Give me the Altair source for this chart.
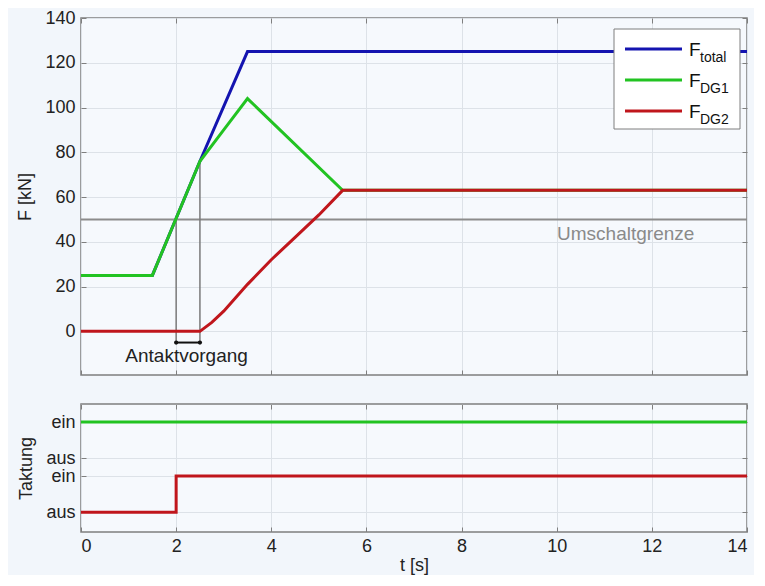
import altair as alt
import pandas as pd

# ---------------- data ----------------
t_total = [0, 1.5, 2.5, 3.5, 14]
f_total = [25, 25, 76, 125, 125]
t_dg1 = [0, 1.5, 2.5, 3.0, 3.5, 5.5, 14]
f_dg1 = [25, 25, 76, 90, 104, 63, 63]
t_dg2 = [0, 2.5, 2.75, 3.0, 3.25, 3.5, 4.0, 4.5, 5.0, 5.5, 14]
f_dg2 = [0, 0, 4, 9, 15, 21, 32, 42, 52, 63, 63]

threshold = 50
threshold_label = "Umschaltgrenze"
threshold_label_pos = [11.45, 43.5]
marker_t = [2.0, 2.5]
marker_top = [50, 76]
marker_bottom = -5
marker_label = "Antaktvorgang"
marker_label_pos = [2.22, -10.8]

tak_t_dg1 = [0, 14]
tak_dg1 = [2.5, 2.5]
tak_t_dg2 = [0, 2, 2, 14]
tak_dg2 = [0, 0, 1, 1]
tak_ticks = [0, 1, 1.5, 2.5]
tak_labels = ["aus", "ein", "aus", "ein"]

x_ticks = [0, 2, 4, 6, 8, 10, 12, 14]
y_ticks = [0, 20, 40, 60, 80, 100, 120, 140]

legend_names = ["total", "DG1", "DG2"]

# ---------------- style ----------------
C_TOTAL = "#1414b0"
C_DG1 = "#22c322"
C_DG2 = "#c0161c"
FRAME = "#7f7f7f"
GRID = "#dde2e8"
BG = "#f2f6fb"
FONT = "Liberation Sans"
FS = 18
FS_ANN = 19
W = 666
H_TOP = 357
H_BOT = 128
LW = 3

xscale = alt.Scale(domain=[0, 14], nice=False, zero=False)
yscale_top = alt.Scale(domain=[-19.5, 140], nice=False, zero=False)
yscale_bot = alt.Scale(domain=[-0.55, 3.0], nice=False, zero=False)


def ax_in(values, orient, grid=True, labels=True, title=None, **kw):
    d = dict(values=values, orient=orient, tickSize=5, offset=-5, domain=False, grid=grid,
             gridColor=GRID, gridWidth=1, tickColor=FRAME, tickWidth=1,
             labels=labels, labelPadding=6, labelFontSize=FS, labelColor="#222",
             labelFont=FONT, labelOverlap=False, titleFont=FONT, titleFontSize=FS,
             titleFontWeight="normal", titleColor="#222")
    d["title"] = title if title is not None else None
    d.update(kw)
    return alt.Axis(**d)


def line_df(t, v):
    return pd.DataFrame({"t": t, "v": v})


def X(scale=xscale, axis=None, field="t:Q"):
    return alt.X(field, scale=scale, axis=axis)


def Y(scale, axis=None, field="v:Q"):
    return alt.Y(field, scale=scale, axis=axis)


# ---------------- top panel ----------------
def top_line(t, v, color, axes=False):
    xa = ax_in(x_ticks, "bottom", labels=False) if axes else None
    ya = ax_in(y_ticks, "left", title="F [kN]", titlePadding=10) if axes else None
    return alt.Chart(line_df(t, v)).mark_line(color=color, strokeWidth=LW).encode(
        x=X(axis=xa), y=Y(yscale_top, ya)
    )


thr_df = pd.DataFrame({"t": [0, 14], "v": [threshold, threshold]})
thr_line = alt.Chart(thr_df).mark_line(color="#8c8c8c", strokeWidth=2).encode(
    x=X(axis=ax_in(x_ticks, "top", grid=False, labels=False)),
    y=Y(yscale_top, ax_in(y_ticks, "right", grid=False, labels=False)),
)

thr_text = alt.Chart(pd.DataFrame({"t": [threshold_label_pos[0]], "v": [threshold_label_pos[1]],
                                   "s": [threshold_label]})).mark_text(
    font=FONT, fontSize=FS_ANN, color="#8a8a8a", align="center", baseline="middle"
).encode(x=X(), y=Y(yscale_top), text="s:N")

vl_df = pd.DataFrame({"t": marker_t, "v0": [marker_bottom, marker_bottom], "v1": marker_top})
vlines = alt.Chart(vl_df).mark_rule(color="#7a7a7a", strokeWidth=1.5).encode(
    x=X(), y=Y(yscale_top, field="v0:Q"), y2="v1:Q"
)

bar_df = pd.DataFrame({"t": [marker_t[0]], "t2": [marker_t[1]], "v": [marker_bottom]})
bar = alt.Chart(bar_df).mark_rule(color="#111", strokeWidth=2).encode(
    x=X(), x2="t2:Q", y=Y(yscale_top)
)
dots_df = pd.DataFrame({"t": marker_t, "v": [marker_bottom, marker_bottom]})
dots = alt.Chart(dots_df).mark_point(filled=True, color="#111", size=18, opacity=1).encode(
    x=X(), y=Y(yscale_top)
)
mk_text = alt.Chart(pd.DataFrame({"t": [marker_label_pos[0]], "v": [marker_label_pos[1]],
                                  "s": [marker_label]})).mark_text(
    font=FONT, fontSize=FS_ANN, color="#222", align="center", baseline="middle"
).encode(x=X(), y=Y(yscale_top), text="s:N")

# legend (drawn inside the plot area, pixel positions)
one = pd.DataFrame({"a": [0]})
leg_box = alt.Chart(one).mark_rect(fill="white", stroke=FRAME, strokeWidth=1).encode(
    x=alt.value(W - 133), x2=alt.value(W - 7), y=alt.value(11), y2=alt.value(111)
)
leg_layers = [leg_box]
leg_colors = [C_TOTAL, C_DG1, C_DG2]
for i, (name, col) in enumerate(zip(legend_names, leg_colors)):
    yl = 31 + i * 31
    leg_layers.append(alt.Chart(one).mark_rule(color=col, strokeWidth=LW).encode(
        x=alt.value(W - 122), x2=alt.value(W - 65), y=alt.value(yl)))
    leg_layers.append(alt.Chart(one).mark_text(
        font=FONT, fontSize=19, color="#111", align="left", baseline="alphabetic").encode(
        x=alt.value(W - 58), y=alt.value(yl + 7), text=alt.value("F")))
    leg_layers.append(alt.Chart(one).mark_text(
        font=FONT, fontSize=14, color="#111", align="left", baseline="alphabetic").encode(
        x=alt.value(W - 47), y=alt.value(yl + 13), text=alt.value(name)))

top = alt.layer(
    top_line(t_total, f_total, C_TOTAL, axes=True),
    thr_line, thr_text, vlines, bar, dots, mk_text,
    top_line(t_dg1, f_dg1, C_DG1),
    top_line(t_dg2, f_dg2, C_DG2),
    *leg_layers,
).resolve_axis(x="independent", y="independent").properties(width=W, height=H_TOP)

# ---------------- bottom panel ----------------
lab_expr = " : ".join(
    [f"datum.value == {v} ? '{l}'" for v, l in zip(tak_ticks, tak_labels)]) + " : ''"

bot_dg1 = alt.Chart(line_df(tak_t_dg1, tak_dg1)).mark_line(color=C_DG1, strokeWidth=LW).encode(
    x=X(axis=ax_in(x_ticks, "bottom", title="t [s]", labelPadding=5, titlePadding=1)),
    y=Y(yscale_bot, ax_in(tak_ticks, "left", title="Taktung", labelExpr=lab_expr, titlePadding=10)),
)
bot_dg2 = alt.Chart(line_df(tak_t_dg2, tak_dg2)).mark_line(color=C_DG2, strokeWidth=LW).encode(
    x=X(), y=Y(yscale_bot)
)
bot_ticks = alt.Chart(line_df(tak_t_dg1, tak_dg1)).mark_line(opacity=0).encode(
    x=X(axis=ax_in(x_ticks, "top", grid=False, labels=False)),
    y=Y(yscale_bot, ax_in(tak_ticks, "right", grid=False, labels=False)),
)

bottom = alt.layer(bot_dg1, bot_dg2, bot_ticks).resolve_axis(
    x="independent", y="independent").properties(width=W, height=H_BOT)

chart = alt.vconcat(top, bottom, spacing=25).configure(
    background=BG,
    padding={"left": 8, "top": 0, "right": 0, "bottom": 0},
    font=FONT,
).configure_view(stroke=FRAME, strokeWidth=1.5, fill="#f6f9fd")

chart.save("out.html", embed_options={"renderer": "svg", "actions": False})
